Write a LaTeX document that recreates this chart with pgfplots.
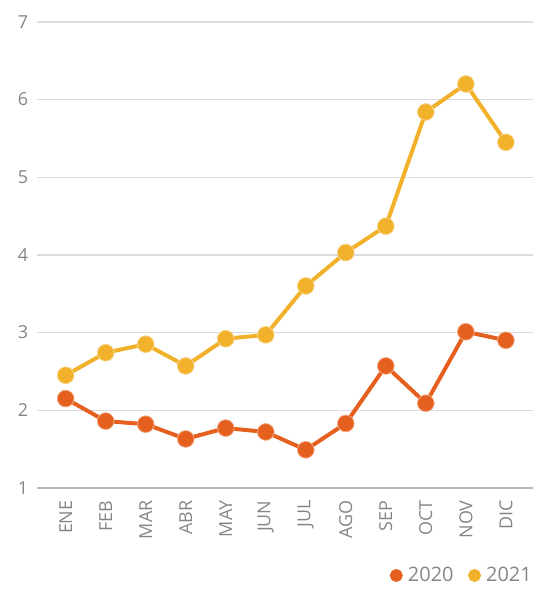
\documentclass[border=0pt]{standalone}
\usepackage{pgfplots}
\pgfplotsset{compat=1.18}
\usepackage{fontspec}
\setmainfont{Open Sans}

\definecolor{c2020}{HTML}{E5601E}
\definecolor{c2021}{HTML}{F2B12A}
\definecolor{txt}{HTML}{858585}
\definecolor{gridc}{HTML}{DCDCDC}

\begin{document}
\begin{tikzpicture}[x=0.75pt,y=0.75pt]
\begin{axis}[
    scale only axis,
    width=373.5pt, height=351pt,
    xmin=-0.72, xmax=11.67,
    ymin=1, ymax=7,
    ytick={1,...,7},
    xtick=data,
    xticklabels={ENE,FEB,MAR,ABR,MAY,JUN,JUL,AGO,SEP,OCT,NOV,DIC},
    x tick label style={rotate=90, anchor=east},
    xticklabel shift=6pt,
    yticklabel shift=3pt,
    axis line style={draw=none},
    axis x line*=bottom,
    axis y line*=left,
    major tick length=0pt,
    xmajorgrids=false,
    ymajorgrids=true,
    grid style={draw=gridc, line width=1pt},
    tick label style={font=\fontsize{13.5}{15}\selectfont, text=txt},
    /pgf/number format/assume math mode=true,
    clip=false,
    legend style={at={(rel axis cs:1.012,-0.188)}, anchor=east, draw=none, fill=none,
        legend columns=-1, font=\fontsize{15}{17}\selectfont, text=txt,
        /tikz/every odd column/.append style={column sep=2pt},
        /tikz/every even column/.append style={column sep=9pt}},
    legend image code/.code={\fill[#1] (0pt,0pt) circle (3.3pt);},
]
\addplot[c2020, line width=3pt, mark=*, mark size=6.3pt,
    mark options={draw=c2020!55!white, line width=0.6pt, fill=c2020}]
coordinates {
(0,2.15) (1,1.86) (2,1.82) (3,1.63) (4,1.77) (5,1.72)
(6,1.49) (7,1.83) (8,2.57) (9,2.09) (10,3.01) (11,2.90)
};
\addplot[c2021, line width=3pt, mark=*, mark size=6.3pt,
    mark options={draw=c2021!55!white, line width=0.6pt, fill=c2021}]
coordinates {
(0,2.45) (1,2.74) (2,2.85) (3,2.57) (4,2.92) (5,2.97)
(6,3.60) (7,4.03) (8,4.37) (9,5.84) (10,6.20) (11,5.45)
};
\legend{2020,2021}
\draw[draw=black!28, line width=1pt] (rel axis cs:0,0) -- (rel axis cs:1,0);
\path (rel axis cs:-0.0743,1.047) rectangle (rel axis cs:1.006,-0.2115);
\end{axis}
\end{tikzpicture}
\end{document}
